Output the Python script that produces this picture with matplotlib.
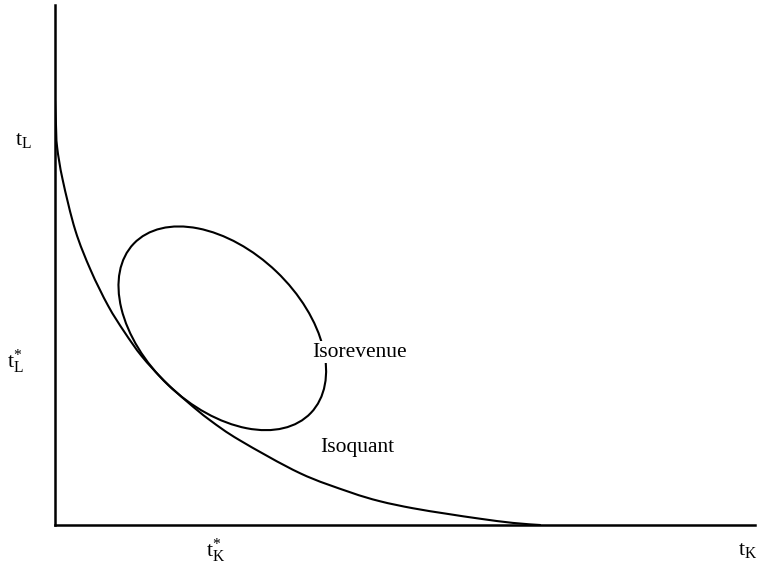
import matplotlib
matplotlib.use("Agg")
import numpy as np
import matplotlib.pyplot as plt
from matplotlib.patches import Ellipse, PathPatch
from matplotlib.path import Path

plt.rcParams["font.family"] = ["Liberation Serif", "DejaVu Serif"]
plt.rcParams["mathtext.fontset"] = "custom"
plt.rcParams["mathtext.rm"] = "Liberation Serif"
plt.rcParams["mathtext.it"] = "Liberation Serif:italic"

# Isoquant: labour tax rate t_L against capital tax rate t_K
isoquant_tk = [0.00, 0.014, 0.03, 0.11, 0.29, 0.51, 0.76, 0.99, 1.24, 1.56,
               1.89, 2.21, 2.64, 3.50, 4.21, 4.64, 5.11, 5.60, 6.07,
               6.54, 6.93]
isoquant_tl = [6.07, 5.71, 5.40, 4.93, 4.21, 3.64, 3.13, 2.76, 2.41, 2.06,
               1.76, 1.50, 1.21, 0.74, 0.47, 0.34, 0.24, 0.16, 0.09,
               0.03, 0.00]

# Isorevenue contour (ellipse): centre, axes lengths, tilt in degrees
isorev_center = (2.39, 2.81)
isorev_width = 3.50
isorev_height = 2.24
isorev_angle = -43.7


def smooth_path(xs, ys):
    """Cubic Bezier path passing through every (x, y) knot (Catmull-Rom tangents)."""
    p = np.column_stack([xs, ys])
    ext = np.vstack([p[0], p, p[-1]])
    verts = [p[0]]
    codes = [Path.MOVETO]
    for i in range(len(p) - 1):
        p0, p1, p2, p3 = ext[i], ext[i + 1], ext[i + 2], ext[i + 3]
        verts += [p1 + (p2 - p0) / 6, p2 - (p3 - p1) / 6, p2]
        codes += [Path.CURVE4] * 3
    return Path(verts, codes)


fig = plt.figure(figsize=(7.62, 5.66), dpi=100)
ax = fig.add_axes([55 / 762, 41 / 566, 700 / 762, 520 / 566])
ax.set_xlim(0, 10)
ax.set_ylim(0, 520 / 70)

ax.add_patch(PathPatch(smooth_path(isoquant_tk, isoquant_tl), fill=False,
                       edgecolor="black", lw=1.5, capstyle="round"))
ax.add_patch(Ellipse(isorev_center, isorev_width, isorev_height,
                     angle=isorev_angle, fill=False, edgecolor="black", lw=1.5))

ax.text(3.67, 2.47, "Isorevenue", fontsize=15.5, va="center", ha="left",
        bbox=dict(facecolor="white", edgecolor="none", pad=1.0), zorder=5)
ax.text(3.79, 1.11, "Isoquant", fontsize=15.5, va="center", ha="left")

lab = dict(fontsize=16, ha="center", va="center", clip_on=False)
ax.text(-0.457, 5.50, r"$\mathrm{t_L}$", **lab)
ax.text(-0.57, 2.33, r"$\mathrm{t_L^{*}}$", **lab)
ax.text(2.30, -0.37, r"$\mathrm{t_K^{*}}$", **lab)
ax.text(9.90, -0.37, r"$\mathrm{t_K}$", **lab)

for s in ("top", "right"):
    ax.spines[s].set_visible(False)
for s in ("left", "bottom"):
    ax.spines[s].set_linewidth(1.8)
ax.set_xticks([])
ax.set_yticks([])

fig.savefig("out.png", dpi=100)
